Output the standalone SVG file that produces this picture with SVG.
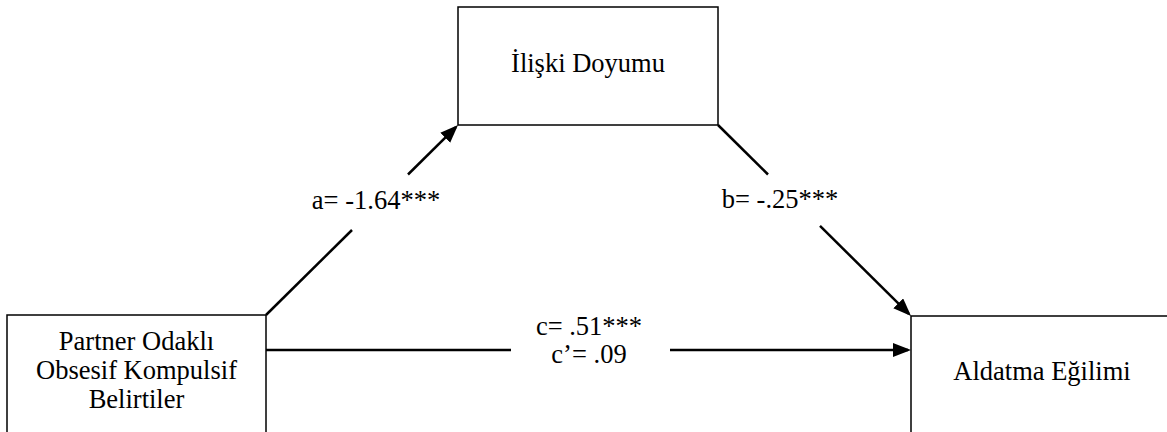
<svg xmlns="http://www.w3.org/2000/svg" width="1167" height="432" viewBox="0 0 1167 432">
  <style>
    .box { fill: #ffffff; stroke: #000000; stroke-width: 1.5; }
    .lbl { font-family: "Liberation Serif", "Times New Roman", serif; font-size: 26.5px; fill: #000000; text-anchor: middle; }
    .edge { stroke: #000000; stroke-width: 2.5; fill: none; }
  </style>
  <defs>
    <marker id="arr" markerUnits="userSpaceOnUse" markerWidth="19" markerHeight="15" refX="15" refY="7" orient="auto">
      <path d="M0,0 L18,7 L0,14 z" fill="#000000"/>
    </marker>
  </defs>
  <rect width="1167" height="432" fill="#ffffff"/>

  <g id="node-iliski">
    <rect class="box" x="458" y="7" width="260" height="118"/>
    <text class="lbl" x="588" y="72">İlişki Doyumu</text>
  </g>

  <g id="node-partner">
    <rect class="box" x="7" y="315" width="259" height="130"/>
    <text class="lbl" x="136.5" y="350">Partner Odaklı</text>
    <text class="lbl" x="136.5" y="379">Obsesif Kompulsif</text>
    <text class="lbl" x="136.5" y="408">Belirtiler</text>
  </g>

  <g id="node-aldatma">
    <rect class="box" x="911" y="316" width="270" height="130"/>
    <text class="lbl" x="1042" y="380">Aldatma Eğilimi</text>
  </g>

  <g id="connectors">
    <line class="edge" x1="266" y1="315" x2="352" y2="230"/>
    <line class="edge" x1="408" y1="174.5" x2="455.9" y2="127.1" marker-end="url(#arr)"/>
    <line class="edge" x1="718" y1="125" x2="768" y2="174.5"/>
    <line class="edge" x1="820" y1="225.9" x2="908.9" y2="313.9" marker-end="url(#arr)"/>
    <line class="edge" x1="266" y1="350" x2="511" y2="350"/>
    <line class="edge" x1="670" y1="350" x2="908" y2="350" marker-end="url(#arr)"/>
    <text class="lbl" x="376" y="209">a= -1.64***</text>
    <text class="lbl" x="780" y="208">b= -.25***</text>
    <text class="lbl" x="589" y="335">c= .51***</text>
    <text class="lbl" x="589" y="363">c’= .09</text>
  </g>
</svg>
